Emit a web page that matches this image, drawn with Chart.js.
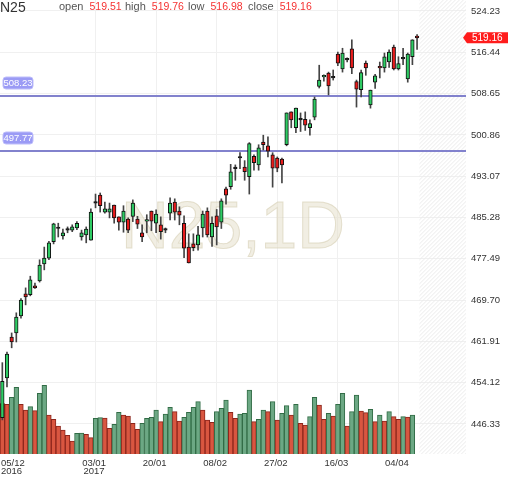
<!DOCTYPE html>
<html>
<head>
<meta charset="utf-8">
<script src="https://cdn.jsdelivr.net/npm/chart.js@4.4.0/dist/chart.umd.min.js"></script>
<style>
  html, body { margin: 0; padding: 0; background: #fff; }
  #mychart { display: block; }
</style>
</head>
<body>
<canvas id="mychart" width="512" height="477"></canvas>
<script>
// daily bars, 05/12/2016 .. 10/04/2017
const dates = [
  '05/12','06/12','07/12','08/12','09/12','12/12','13/12','14/12','15/12','16/12',
  '19/12','20/12','21/12','22/12','23/12','26/12','27/12','28/12','29/12','30/12',
  '03/01','04/01','05/01','06/01','09/01','10/01','11/01','12/01','13/01','16/01',
  '17/01','18/01','19/01','20/01','23/01','24/01','25/01','26/01','27/01','30/01',
  '31/01','01/02','02/02','03/02','06/02','07/02','08/02','09/02','10/02','13/02',
  '14/02','15/02','16/02','17/02','20/02','21/02','22/02','23/02','24/02','27/02',
  '28/02','01/03','02/03','03/03','06/03','07/03','08/03','09/03','10/03','13/03',
  '14/03','15/03','16/03','17/03','20/03','21/03','22/03','23/03','24/03','27/03',
  '28/03','29/03','30/03','31/03','03/04','04/04','05/04','06/04','07/04','10/04'
];
const open = [
  447.5, 455.0, 462.7, 463.5, 466.7, 470.9, 470.7, 472.4, 473.3, 476.5,
  477.6, 480.7, 483.2, 481.8, 482.9, 482.9, 483.3, 481.6, 482.0, 481.0,
  488.0, 489.5, 486.3, 486.3, 487.6, 485.4, 484.4, 485.0, 485.5, 485.0,
  482.4, 484.6, 486.5, 484.2, 483.9, 482.9, 486.1, 488.2, 486.5, 484.2,
  479.7, 480.3, 480.1, 483.3, 486.5, 481.6, 485.6, 484.4, 490.7, 491.1,
  494.5, 496.5, 494.8, 493.0, 496.8, 495.2, 499.5, 498.8, 497.1, 496.5,
  496.3, 499.0, 505.2, 502.2, 503.7, 503.8, 502.2, 504.2, 510.0, 511.8,
  512.5, 511.6, 516.1, 513.3, 515.0, 517.1, 510.9, 509.4, 514.4, 506.5,
  510.8, 513.8, 513.5, 514.6, 517.4, 513.3, 515.2, 511.4, 515.6, 519.51
];
const high = [
  457.9, 459.9, 463.5, 467.3, 470.0, 472.0, 474.2, 472.9, 477.3, 479.7,
  480.8, 484.2, 484.2, 483.1, 483.5, 483.9, 484.5, 482.9, 483.5, 486.9,
  489.7, 489.9, 488.2, 488.0, 487.6, 485.4, 487.5, 485.2, 488.6, 485.5,
  483.9, 485.8, 486.5, 486.7, 485.4, 483.3, 489.0, 488.8, 487.3, 485.6,
  482.2, 482.2, 483.6, 486.5, 487.1, 485.4, 486.8, 488.8, 491.0, 495.3,
  495.2, 497.5, 496.0, 499.4, 497.1, 499.0, 500.8, 500.5, 497.5, 496.7,
  496.5, 505.0, 505.2, 505.9, 505.0, 505.2, 503.7, 508.0, 514.0, 512.2,
  512.7, 513.1, 516.5, 517.2, 515.4, 518.8, 511.2, 513.1, 514.8, 509.3,
  512.3, 514.6, 516.3, 516.9, 517.8, 515.6, 517.2, 516.3, 518.8, 519.76
];
const low = [
  447.1, 453.3, 460.7, 461.8, 466.3, 468.8, 470.5, 471.9, 473.1, 475.4,
  477.3, 480.3, 481.6, 481.2, 482.4, 482.6, 483.0, 481.0, 480.5, 481.0,
  487.1, 486.3, 486.1, 485.2, 484.2, 482.9, 482.5, 482.4, 484.5, 483.2,
  480.7, 482.4, 482.8, 482.4, 481.2, 482.4, 484.8, 484.8, 483.9, 477.7,
  476.7, 479.0, 479.1, 481.6, 481.6, 479.8, 480.1, 483.2, 487.8, 490.6,
  492.3, 494.5, 492.3, 489.7, 494.2, 494.2, 498.0, 496.7, 491.0, 493.9,
  491.8, 498.8, 502.2, 501.3, 501.5, 501.7, 500.8, 503.7, 509.7, 511.0,
  508.4, 511.2, 513.9, 512.7, 514.6, 512.4, 506.1, 508.0, 512.1, 505.9,
  509.6, 511.6, 512.7, 513.6, 513.1, 513.1, 514.1, 510.8, 514.1, 516.98
];
const close = [
  454.4, 459.5, 461.8, 466.5, 469.7, 470.3, 473.5, 472.0, 476.3, 477.6,
  480.5, 484.1, 483.2, 482.4, 482.9, 483.5, 484.2, 482.4, 483.1, 486.3,
  488.0, 487.5, 486.9, 486.9, 485.2, 484.4, 486.5, 482.9, 488.0, 484.0,
  481.6, 484.7, 484.6, 485.9, 482.6, 482.9, 488.0, 486.3, 485.7, 479.5,
  476.7, 479.6, 482.0, 485.9, 482.0, 484.2, 483.5, 488.4, 489.5, 493.9,
  494.5, 496.5, 493.9, 499.2, 495.6, 498.4, 499.0, 497.8, 494.6, 494.6,
  495.2, 505.0, 503.7, 505.9, 503.7, 502.7, 503.0, 507.6, 511.2, 511.9,
  510.1, 511.6, 514.4, 516.3, 515.0, 513.5, 509.5, 512.6, 513.5, 509.3,
  512.0, 513.5, 515.6, 516.5, 513.3, 514.3, 515.2, 516.1, 518.8, 519.16
];
// volume (last session has no volume yet)
const volume = [
  50.5, 49.7, 56.7, 66.7, 49.7, 44.0, 47.3, 43.3, 60.7, 68.7,
  39.0, 34.7, 28.0, 24.0, 18.7, 13.0, 20.7, 20.9, 19.7, 16.3,
  35.7, 36.3, 36.0, 25.7, 29.7, 41.7, 39.0, 38.0, 30.7, 24.7,
  30.7, 35.7, 36.7, 44.0, 32.3, 40.0, 46.7, 42.3, 33.0, 36.7,
  41.7, 46.7, 52.3, 44.0, 34.0, 31.7, 42.3, 45.7, 54.0, 41.7,
  35.7, 40.0, 40.7, 64.0, 32.3, 34.7, 44.0, 42.3, 52.3, 34.0,
  40.7, 48.3, 39.0, 49.7, 30.7, 29.0, 37.3, 56.7, 49.0, 34.7,
  40.7, 38.0, 49.7, 60.7, 28.0, 42.3, 59.0, 43.0, 41.3, 44.7,
  32.3, 39.0, 33.0, 42.3, 37.3, 34.7, 37.3, 37.0, 39.0, null
];
const yTicks = [446.33, 454.12, 461.91, 469.70, 477.49, 485.28, 493.07, 500.86, 508.65, 516.44, 524.23];
const tickDates = ['05/12', '03/01', '20/01', '08/02', '27/02', '16/03', '04/04'];
const tickYears = ['2016', '2017', '', '', '', '', ''];
const levels = [508.23, 497.77];
const symbol = 'N25';
const period = '1D';
const futureSlots = 10;

const font = "'Liberation Sans', Arial, sans-serif";
const upCol = 'rgb(46,204,100)';
const downCol = 'rgb(232,28,28)';
const flatCol = '#222';
const volUp = 'rgb(108,168,132)';
const volUpBorder = 'rgb(50,108,70)';
const volDown = 'rgb(217,86,64)';
const volDownBorder = 'rgb(140,38,28)';
const levelCol = 'rgb(130,130,205)';

Chart.defaults.font.family = font;

let labels = dates.concat(new Array(futureSlots).fill(''));
let last = close.length - 1;

const overlay = {
  id: 'overlay',
  beforeDatasetsDraw(chart) {
    const {ctx, chartArea: a, scales: {x, y}} = chart;
    const slot = x.getPixelForValue(1) - x.getPixelForValue(0);
    const hx = x.getPixelForValue(dates.length - 1) + slot / 2;
    const h = a.bottom - a.top;
    ctx.save();
    // hatched space for future sessions
    ctx.beginPath();
    ctx.rect(hx, a.top, a.right - hx, h);
    ctx.clip();
    ctx.strokeStyle = '#ebebeb';
    ctx.lineWidth = 1;
    for (let k = hx - h; k < a.right; k += 4) {
      ctx.beginPath();
      ctx.moveTo(k, a.bottom);
      ctx.lineTo(k + h, a.top);
      ctx.stroke();
    }
    ctx.restore();

    // watermark
    ctx.save();
    ctx.font = '66px ' + font;
    ctx.textAlign = 'center';
    ctx.textBaseline = 'alphabetic';
    ctx.fillStyle = 'rgba(228,222,200,0.5)';
    ctx.strokeStyle = 'rgba(214,206,180,0.6)';
    ctx.lineWidth = 1;
    ctx.fillText(symbol + ',' + period, (a.left + a.right) / 2, 248);
    ctx.strokeText(symbol + ',' + period, (a.left + a.right) / 2, 248);
    ctx.restore();

    // horizontal levels
    ctx.save();
    ctx.strokeStyle = levelCol;
    ctx.lineWidth = 2;
    levels.forEach(v => {
      const py = Math.round(y.getPixelForValue(v));
      ctx.beginPath();
      ctx.moveTo(a.left, py);
      ctx.lineTo(a.right, py);
      ctx.stroke();
    });
    ctx.restore();
  },
  afterDraw(chart) {
    const {ctx, chartArea: a, scales: {x, y}} = chart;
    ctx.save();
    // header
    ctx.textBaseline = 'alphabetic';
    ctx.textAlign = 'left';
    ctx.fillStyle = '#333';
    ctx.font = '14px ' + font;
    ctx.fillText(symbol, 0, 11.5);
    const head = [['open', open[last], 59], ['high', high[last], 125], ['low', low[last], 188], ['close', close[last], 248]];
    head.forEach(([name, val, px]) => {
      ctx.font = '11px ' + font;
      ctx.fillStyle = '#555';
      ctx.fillText(name, px, 9.5);
      const w = ctx.measureText(name).width;
      ctx.font = '10.5px ' + font;
      ctx.fillStyle = 'rgb(245,50,50)';
      ctx.fillText(val.toFixed(2), px + w + 6, 9.5);
    });

    // level tags
    ctx.font = '9.5px ' + font;
    ctx.textAlign = 'center';
    ctx.textBaseline = 'middle';
    levels.forEach(v => {
      const py = Math.round(y.getPixelForValue(v));
      ctx.fillStyle = 'rgb(155,155,245)';
      ctx.strokeStyle = 'rgb(190,190,250)';
      ctx.lineWidth = 1;
      ctx.beginPath();
      ctx.roundRect(3, py - 19, 30, 12, 3);
      ctx.fill();
      ctx.stroke();
      ctx.fillStyle = '#fff';
      ctx.fillText(v.toFixed(2), 18, py - 12.5);
    });

    // last price tag
    const cy = y.getPixelForValue(close[last]);
    ctx.fillStyle = 'rgb(255,28,28)';
    ctx.beginPath();
    ctx.moveTo(463, cy);
    ctx.lineTo(467, cy - 5.5);
    ctx.lineTo(508, cy - 5.5);
    ctx.lineTo(508, cy + 5.5);
    ctx.lineTo(467, cy + 5.5);
    ctx.closePath();
    ctx.fill();
    ctx.fillStyle = '#fff';
    ctx.font = '10px ' + font;
    ctx.textAlign = 'left';
    ctx.fillText(close[last].toFixed(2), 472, cy + 0.5);

    // date labels
    ctx.fillStyle = '#333';
    ctx.font = '9.5px ' + font;
    ctx.textBaseline = 'alphabetic';
    tickDates.forEach((d, k) => {
      const px = x.getPixelForValue(dates.indexOf(d)) - 1.5;
      ctx.textAlign = k === 0 ? 'left' : 'center';
      const tx = k === 0 ? 1 : px;
      ctx.fillText(d, tx, a.bottom + 11.5);
      if (tickYears[k]) ctx.fillText(tickYears[k], tx, a.bottom + 20);
    });
    ctx.restore();
  }
};

let myChart = document.getElementById('mychart').getContext('2d');
let candleChart = new Chart(myChart, {
  type: 'bar',
  data: {
    labels: labels,
    datasets: [
      {
        label: 'body',
        data: open.map((o, i) => [o, close[i]]),
        backgroundColor: open.map((o, i) => close[i] > o ? upCol : (close[i] < o ? downCol : flatCol)),
        borderColor: '#111',
        borderWidth: 1,
        borderSkipped: false,
        barThickness: 3.6,
        minBarLength: 1.5,
        grouped: false,
        yAxisID: 'y',
        order: 1
      },
      {
        label: 'wick',
        data: low.map((l, i) => [l, high[i]]),
        backgroundColor: '#444',
        barThickness: 1,
        grouped: false,
        yAxisID: 'y',
        order: 2
      },
      {
        label: 'volume',
        data: volume,
        backgroundColor: volume.map((v, i) => i > 0 && v >= volume[i - 1] ? volUp : volDown),
        borderColor: volume.map((v, i) => i > 0 && v >= volume[i - 1] ? volUpBorder : volDownBorder),
        borderWidth: 1,
        borderSkipped: 'start',
        barPercentage: 1,
        categoryPercentage: 1,
        grouped: false,
        yAxisID: 'vol',
        order: 3
      }
    ]
  },
  options: {
    responsive: false,
    animation: false,
    layout: { padding: 0 },
    scales: {
      x: {
        type: 'category',
        offset: true,
        ticks: { display: false },
        grid: {
          offset: false,
          drawTicks: false,
          color: c => (c.tick && c.tick.value > 0 && tickDates.includes(labels[c.tick.value])) ? '#f0f0f0' : 'rgba(0,0,0,0)'
        },
        border: { display: false },
        afterFit: s => { s.height = 23; s.paddingLeft = 0; s.paddingRight = 0; }
      },
      y: {
        position: 'right',
        min: 440.67,
        max: 526.30,
        afterBuildTicks: s => { s.ticks = yTicks.map(v => ({ value: v })); },
        ticks: {
          callback: v => v.toFixed(2),
          color: '#333',
          padding: 5,
          font: { size: 9.5 }
        },
        grid: { color: '#f0f0f0', drawTicks: false },
        border: { display: false },
        afterFit: s => { s.width = 46; s.paddingTop = 0; s.paddingBottom = 0; }
      },
      vol: {
        display: false,
        min: 0,
        max: 454
      }
    },
    plugins: {
      legend: { display: false },
      tooltip: { enabled: false }
    }
  },
  plugins: [overlay]
});
</script>
</body>
</html>
